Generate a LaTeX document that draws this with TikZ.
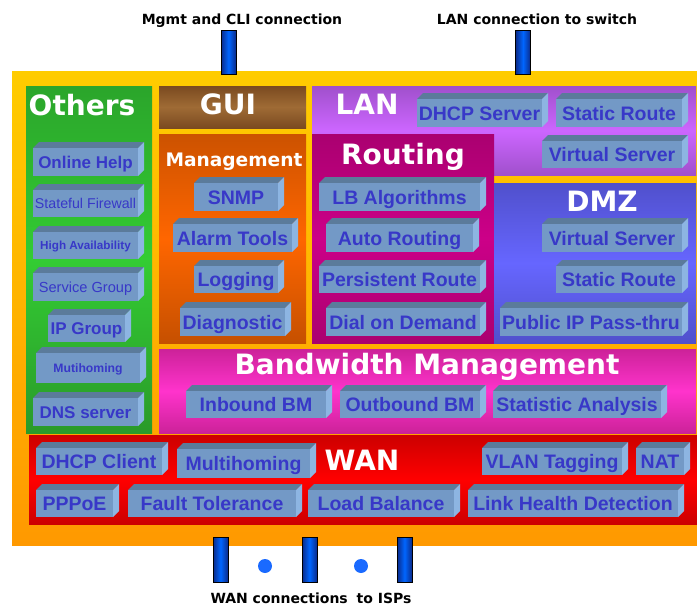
\documentclass[tikz,border=0pt]{standalone}
\usepackage{fontspec}
\setmainfont{Liberation Sans}
\newfontfamily\verd{DejaVu Sans}

\definecolor{slabfront}{HTML}{7399C6}
\definecolor{slabtop}{HTML}{5B7B9B}
\definecolor{slabside}{HTML}{8DB5E2}
\definecolor{slabtext}{HTML}{3838C8}
\definecolor{portdark}{HTML}{0A2A8A}
\definecolor{portlight}{HTML}{0066FF}
\definecolor{dotblue}{HTML}{1A6AFF}

\tikzset{
    slab/.style={fill=slabfront, text=slabtext, inner sep=0pt, font=\bfseries\fontsize{19.5}{20}\selectfont, text height=14pt, text depth=0pt},
    smallslab/.style={font=\bfseries\fontsize{17}{17}\selectfont, text height=12.2pt},
    title/.style={text=white, anchor=base, font=\verd\bfseries\fontsize{28}{28}\selectfont},
    caption/.style={anchor=base, font=\verd\bfseries\fontsize{14}{14}\selectfont},
    port/.style={draw=black, line width=0.8pt, minimum width=15pt, minimum height=45pt, inner sep=0pt, left color=portdark, right color=portdark, middle color=portlight},
    portdot/.style={circle, fill=dotblue, minimum size=14pt, inner sep=0pt}
}

% 3D feature box: [options]{name}{x1}{y1}{x2}{y2}{text}
\newcommand{\featurebox}[7][]{%
    \fill[slabtop] (#3,#4) -- ++(6,-6) -- ({#5+6},{#4-6}) -- (#5,#4) -- cycle;
    \fill[slabside] (#5,#4) -- ({#5+6},{#4-6}) -- ({#5+6},{#6-6}) -- (#5,#6) -- cycle;
    \node[slab, minimum width={#5-#3}, minimum height={#6-#4}, #1] (#2) at ({(#3+#5)/2},{(#4+#6)/2}) {#7};
}

\begin{document}
\begin{tikzpicture}[x=1pt, y=-1pt]
    \useasboundingbox (0,0) rectangle (697,605);

    % panels
    \shade[top color={rgb,255:red,255;green,204;blue,0}, bottom color={rgb,255:red,255;green,153;blue,0}] (12,71) rectangle (697,545);
    \shade[top color={rgb,255:red,43;green,165;blue,43}, bottom color={rgb,255:red,42;green,154;blue,42}, middle color={rgb,255:red,51;green,204;blue,51}] (26,86) rectangle (152,433);
    \shade[top color={rgb,255:red,122;green,74;blue,32}, bottom color={rgb,255:red,122;green,74;blue,32}, middle color={rgb,255:red,159;green,107;blue,53}] (159,86) rectangle (306,128);
    \shade[top color={rgb,255:red,204;green,82;blue,0}, bottom color={rgb,255:red,198;green,80;blue,0}, middle color={rgb,255:red,255;green,102;blue,0}] (159,134) rectangle (306,343);
    \shade[top color={rgb,255:red,160;green,80;blue,204}, bottom color={rgb,255:red,160;green,80;blue,204}, middle color={rgb,255:red,204;green,102;blue,255}] (312,86) rectangle (696,175);
    \shade[top color={rgb,255:red,170;green,0;blue,112}, bottom color={rgb,255:red,170;green,0;blue,112}, middle color={rgb,255:red,204;green,0;blue,136}] (312,134) rectangle (494,343);
    \shade[top color={rgb,255:red,80;green,80;blue,204}, bottom color={rgb,255:red,80;green,80;blue,204}, middle color={rgb,255:red,102;green,102;blue,255}] (494,183) rectangle (696,343);
    \shade[top color={rgb,255:red,204;green,34;blue,153}, bottom color={rgb,255:red,204;green,34;blue,153}, middle color={rgb,255:red,255;green,51;blue,204}] (159,349) rectangle (696,433);
    \shade[top color={rgb,255:red,204;green,0;blue,0}, bottom color={rgb,255:red,204;green,0;blue,0}, middle color={rgb,255:red,255;green,0;blue,0}] (29,435) rectangle (697,524);

    % titles
    \node[title] (others) at (82,115) {Others};
    \node[title] (gui) at (228,114) {GUI};
    \node[title, font=\verd\bfseries\fontsize{18.6}{19}\selectfont] (management) at (234,166) {Management};
    \node[title] (lan) at (367,114) {LAN};
    \node[title] (routing) at (403,164) {Routing};
    \node[title] (dmz) at (602,211) {DMZ};
    \node[title] (bandwidth) at (427,374) {Bandwidth Management};
    \node[title] (wan) at (362,470) {WAN};

    % Others
    \featurebox[smallslab]{help}{33}{148}{138}{176}{Online Help}
    \featurebox[font=\fontsize{14.2}{15}\selectfont, text height=10.2pt]{firewall}{33}{190}{138}{217}{Stateful Firewall}
    \featurebox[font=\bfseries\fontsize{11.7}{12}\selectfont, text height=8.4pt]{ha}{33}{232}{138}{259}{High Availability}
    \featurebox[font=\fontsize{14.6}{15}\selectfont, text height=10.5pt]{svcgroup}{33}{273}{138}{301}{Service Group}
    \featurebox[smallslab]{ipgroup}{48}{315}{125}{342}{IP Group}
    \featurebox[font=\bfseries\fontsize{12.2}{12}\selectfont, text height=8.7pt]{mutihome}{36}{353}{140}{383}{Mutihoming}
    \featurebox[smallslab]{dns}{33}{398}{138}{426}{DNS server}

    % Management
    \featurebox{snmp}{194}{183}{278}{211}{SNMP}
    \featurebox{alarm}{173}{224}{292}{252}{Alarm Tools}
    \featurebox{logging}{194}{266}{278}{293}{Logging}
    \featurebox{diag}{180}{308}{285}{336}{Diagnostic}

    % LAN
    \featurebox{dhcpsrv}{417}{99}{542}{127}{DHCP Server}
    \featurebox{lanroute}{556}{99}{682}{127}{Static Route}
    \featurebox{lanvs}{542}{141}{682}{168}{Virtual Server}

    % Routing
    \featurebox{lbalg}{319}{183}{480}{211}{LB Algorithms}
    \featurebox{autoroute}{326}{224}{473}{252}{Auto Routing}
    \featurebox{persist}{319}{266}{480}{293}{Persistent Route}
    \featurebox{dial}{326}{308}{480}{336}{Dial on Demand}

    % DMZ
    \featurebox{dmzvs}{542}{224}{682}{252}{Virtual Server}
    \featurebox{dmzroute}{556}{266}{682}{293}{Static Route}
    \featurebox{pubip}{500}{308}{682}{336}{Public IP Pass-thru}

    % Bandwidth Management
    \featurebox{inbound}{186}{391}{326}{418}{Inbound BM}
    \featurebox{outbound}{340}{391}{480}{418}{Outbound BM}
    \featurebox{stats}{493}{391}{661}{418}{Statistic Analysis}

    % WAN
    \featurebox{dhcpcl}{36}{448}{162}{475}{DHCP Client}
    \featurebox{multihome}{177}{449}{310}{478}{Multihoming}
    \featurebox{vlan}{482}{448}{622}{475}{VLAN Tagging}
    \featurebox{nat}{636}{448}{684}{475}{NAT}
    \featurebox{pppoe}{36}{490}{113}{517}{PPPoE}
    \featurebox{fault}{128}{490}{296}{517}{Fault Tolerance}
    \featurebox{loadbal}{308}{490}{454}{517}{Load Balance}
    \featurebox{linkhealth}{468}{490}{678}{517}{Link Health Detection}

    % ports
    \node[port, minimum height=44pt] (pmgmt) at (228.5,52) {};
    \node[port, minimum height=44pt] (plan) at (523,52) {};
    \node[port] (pwan1) at (220.5,559.5) {};
    \node[port] (pwan2) at (309.5,559.5) {};
    \node[port] (pwan3) at (404.5,559.5) {};
    \node[portdot] (dot1) at (265,566) {};
    \node[portdot] (dot2) at (361,566) {};

    \node[caption] (capmgmt) at (242,24) {Mgmt and CLI connection};
    \node[caption] (caplan) at (537,24) {LAN connection to switch};
    \node[caption] (capwan) at (311,603) {WAN connections\hspace{4pt} to ISPs};
\end{tikzpicture}
\end{document}
